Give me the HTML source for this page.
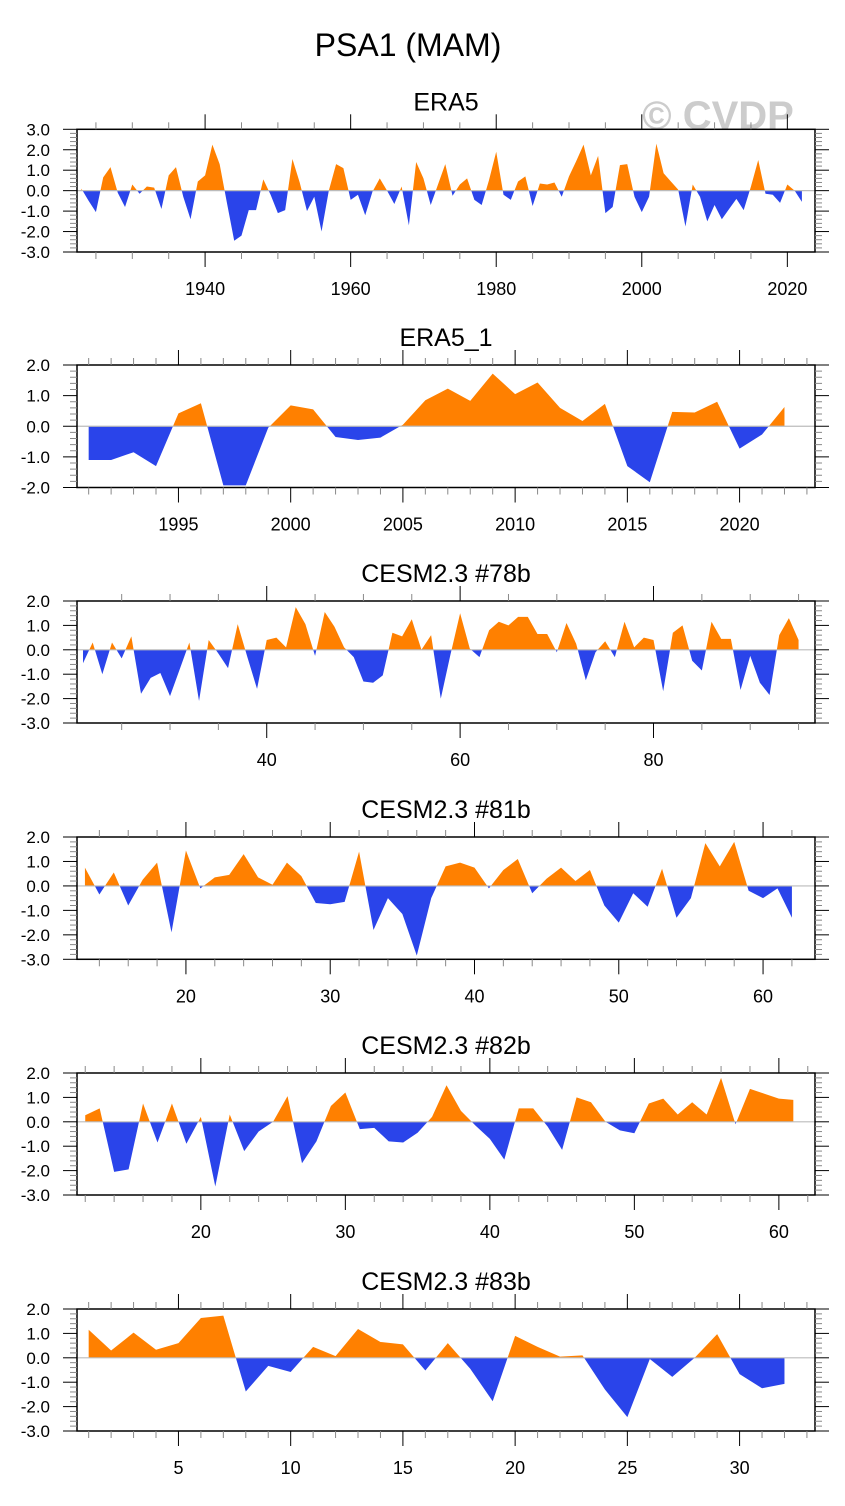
<!DOCTYPE html>
<html><head><meta charset="utf-8">
<style>
html,body{margin:0;padding:0;background:#fff;}
svg{display:block;font-family:"Liberation Sans",Arial,sans-serif;}
</style></head>
<body>
<svg id="chart" width="845" height="1506" viewBox="0 0 845 1506" xmlns="http://www.w3.org/2000/svg">
<rect width="845" height="1506" fill="#fff"/>
<text x="408" y="56" font-size="32" text-anchor="middle" fill="#000">PSA1 (MAM)</text>
<text x="718" y="129" font-size="40" font-weight="bold" text-anchor="middle" fill="#cccccc">© CVDP</text>
<g id="panels"></g>
</svg>
<script>
// ---- data ----
const era5Start = 1923;
const era5Values = [
0.1,-0.5,-1.05,0.65,1.15,-0.1,-0.8,0.3,-0.15,0.2,
0.15,-0.9,0.75,1.15,-0.3,-1.4,0.45,0.75,2.25,1.3,
-0.6,-2.45,-2.2,-0.95,-0.95,0.55,-0.2,-1.1,-0.95,1.55,
0.4,-1.0,-0.3,-2.0,0.0,1.3,1.1,-0.45,-0.2,-1.2,
-0.05,0.6,0.0,-0.65,0.2,-1.7,1.4,0.6,-0.7,0.3,
1.3,-0.25,0.3,0.6,-0.45,-0.7,0.5,1.9,-0.2,-0.45,
0.45,0.7,-0.75,0.35,0.3,0.4,-0.3,0.7,1.45,2.25,
0.75,1.7,-1.1,-0.8,1.25,1.3,-0.3,-1.05,-0.3,2.3,
0.85,0.45,0.05,-1.75,0.3,-0.3,-1.5,-0.7,-1.4,-0.9,
-0.4,-0.95,0.2,1.5,-0.15,-0.2,-0.6,0.3,0.0,-0.55];
const era5XTicks = [1940,1960,1980,2000,2020];
const era5YTicks = [3,2,1,0,-1,-2,-3];

const era51Start = 1991;
const era51Values = [-1.1,-1.1,-0.85,-1.3,0.42,0.75,-1.93,-1.93,-0.05,0.68,0.55,-0.35,-0.45,-0.37,0.05,0.85,1.23,0.83,1.72,1.05,1.43,0.6,0.17,0.73,-1.3,-1.83,0.47,0.45,0.8,-0.73,-0.27,0.63];
const era51XTicks = [1995,2000,2005,2010,2015,2020];
const era51YTicks = [2,1,0,-1,-2];

const c78Start = 21;
const c78Values = [
-0.55,0.3,-1.0,0.3,-0.35,0.55,-1.8,-1.15,-0.95,-1.9,
-0.8,0.3,-2.1,0.4,-0.15,-0.75,1.05,-0.3,-1.6,0.4,
0.5,0.1,1.75,1.05,-0.25,1.55,0.95,0.1,-0.3,-1.3,
-1.35,-1.05,0.7,0.55,1.25,0.0,0.6,-2.0,-0.2,1.5,
0.05,-0.3,0.8,1.15,1.0,1.35,1.35,0.65,0.65,-0.1,
1.1,0.25,-1.25,-0.1,0.35,-0.3,1.15,0.1,0.5,0.4,
-1.7,0.7,1.0,-0.45,-0.85,1.15,0.45,0.45,-1.65,-0.25,
-1.35,-1.85,0.6,1.3,0.4];
const c78XTicks = [40,60,80];

const c81Start = 13;
const c81Values = [
0.75,-0.35,0.55,-0.8,0.25,0.95,-1.9,1.45,-0.1,0.35,
0.45,1.3,0.35,0.05,0.95,0.4,-0.7,-0.75,-0.65,1.4,
-1.8,-0.5,-1.15,-2.85,-0.5,0.8,0.95,0.75,-0.1,0.65,
1.1,-0.3,0.3,0.75,0.2,0.65,-0.8,-1.5,-0.3,-0.85,
0.7,-1.3,-0.5,1.75,0.8,1.8,-0.2,-0.5,-0.1,-1.3];
const c81XTicks = [20,30,40,50,60];

const c82Start = 12;
const c82Values = [
0.27,0.55,-2.05,-1.95,0.75,-0.85,0.75,-0.9,0.2,-2.65,
0.3,-1.2,-0.4,0.0,1.05,-1.7,-0.8,0.65,1.2,-0.3,
-0.25,-0.8,-0.85,-0.45,0.2,1.5,0.45,-0.15,-0.7,-1.55,
0.55,0.55,-0.2,-1.15,1.0,0.8,0.0,-0.35,-0.47,0.75,
0.95,0.3,0.8,0.3,1.8,-0.1,1.35,1.15,0.95,0.9];
const c82XTicks = [20,30,40,50,60];

const c83Start = 1;
const c83Values = [1.15,0.3,1.03,0.33,0.6,1.63,1.73,-1.38,-0.33,-0.58,0.45,0.07,1.18,0.65,0.55,-0.52,0.6,-0.45,-1.78,0.9,0.45,0.05,0.1,-1.3,-2.43,-0.05,-0.78,0.0,0.97,-0.67,-1.25,-1.07];
const c83XTicks = [5,10,15,20,25,30];
const cesmYTicks = [2,1,0,-1,-2,-3];

// ---- layout (geometry, not data) ----
const panels = [
 {key:'era5', title:'ERA5', start:era5Start, vals:era5Values, xt:era5XTicks, yt:era5YTicks, top:129.3, bot:252, xmin:1922.4, xmax:2023.8, minor:5},
 {key:'era5-1', title:'ERA5_1', start:era51Start, vals:era51Values, xt:era51XTicks, yt:era51YTicks, top:365, bot:487.5, xmin:1990.48, xmax:2023.36, minor:1},
 {key:'cesm-78b', title:'CESM2.3 #78b', start:c78Start, vals:c78Values, xt:c78XTicks, yt:cesmYTicks, top:601, bot:723, xmin:20.38, xmax:96.7, minor:5},
 {key:'cesm-81b', title:'CESM2.3 #81b', start:c81Start, vals:c81Values, xt:c81XTicks, yt:cesmYTicks, top:837, bot:959.3, xmin:12.45, xmax:63.6, minor:2},
 {key:'cesm-82b', title:'CESM2.3 #82b', start:c82Start, vals:c82Values, xt:c82XTicks, yt:cesmYTicks, top:1073, bot:1195, xmin:11.43, xmax:62.5, minor:2},
 {key:'cesm-83b', title:'CESM2.3 #83b', start:c83Start, vals:c83Values, xt:c83XTicks, yt:cesmYTicks, top:1309, bot:1431, xmin:0.48, xmax:33.36, minor:1}
];
const L = 77, R = 815;
const NS = 'http://www.w3.org/2000/svg';
const root = document.getElementById('panels');
function mk(tag, attrs, parent){
  const e = document.createElementNS(NS, tag);
  for (const k in attrs) e.setAttribute(k, attrs[k]);
  parent.appendChild(e);
  return e;
}

panels.forEach((p, pi) => {
  const ymax = p.yt[0], ymin = p.yt[p.yt.length-1];
  const sx = v => L + (v - p.xmin) / (p.xmax - p.xmin) * (R - L);
  const sy = v => p.top + (ymax - v) / (ymax - ymin) * (p.bot - p.top);
  const g = mk('g', {}, root);
  
  

  const t = mk('text', {x:446, y:p.top - 19, 'font-size':25, 'text-anchor':'middle', fill:'#000'}, g);
  t.textContent = p.title;
  
  

  const y0 = sy(0);
  const defs = mk('defs', {}, g);
  const cu = mk('clipPath', {id:'cu'+pi}, defs);
  mk('rect', {x:L, y:p.top, width:R-L, height:y0-p.top}, cu);
  const cd = mk('clipPath', {id:'cd'+pi}, defs);
  mk('rect', {x:L, y:y0, width:R-L, height:p.bot-y0}, cd);

  let d = 'M' + sx(p.start) + ',' + y0;
  p.vals.forEach((v, i) => { d += ' L' + sx(p.start + i) + ',' + sy(v); });
  d += ' L' + sx(p.start + p.vals.length - 1) + ',' + y0 + ' Z';
  const up = mk('path', {d:d, fill:'#ff8000', 'clip-path':'url(#cu'+pi+')'}, g);
  
  
  const dn = mk('path', {d:d, fill:'#2a44ea', 'clip-path':'url(#cd'+pi+')'}, g);
  
  

  const zl = mk('line', {x1:L, x2:R, y1:y0, y2:y0, stroke:'#bbbbbb', 'stroke-width':1.2}, g);
  
  

  const fr = mk('rect', {x:L, y:p.top, width:R-L, height:p.bot-p.top, fill:'none', stroke:'#000', 'stroke-width':1.5}, g);
  
  

  for (let v = ymin; v <= ymax + 1e-6; v += 0.2) {
    const vv = Math.round(v * 10) / 10;
    const yy = sy(vv);
    const major = Math.abs(vv - Math.round(vv)) < 1e-6;
    const len = major ? 14 : 7;
    mk('line', {x1:L-len, x2:L, y1:yy, y2:yy, stroke: major ? '#000' : '#888', 'stroke-width':1}, g);
    mk('line', {x1:R, x2:R+len, y1:yy, y2:yy, stroke: major ? '#000' : '#888', 'stroke-width':1}, g);
  }
  p.yt.forEach(v => {
    const lb = mk('text', {x:50, y:sy(v) + 6, 'font-size':17, 'text-anchor':'end', fill:'#000'}, g);
    lb.textContent = v.toFixed(1);
    
    
  });

  const majorStep = p.xt.length > 1 ? p.xt[1] - p.xt[0] : 20;
  const first = Math.ceil(p.xmin / p.minor) * p.minor;
  for (let v = first; v <= p.xmax; v += p.minor) {
    const xx = sx(v);
    const major = Math.abs(((v - p.xt[0]) % majorStep + majorStep) % majorStep) < 1e-6;
    const len = major ? 15 : 7;
    mk('line', {x1:xx, x2:xx, y1:p.bot, y2:p.bot+len, stroke: major ? '#000' : '#888', 'stroke-width':1}, g);
    mk('line', {x1:xx, x2:xx, y1:p.top-len, y2:p.top, stroke: major ? '#000' : '#888', 'stroke-width':1}, g);
  }
  p.xt.forEach(v => {
    const lb = mk('text', {x:sx(v), y:p.bot + 43, 'font-size':18, 'text-anchor':'middle', fill:'#000'}, g);
    lb.textContent = String(v);
    
    
  });
});
</script>
</body></html>
